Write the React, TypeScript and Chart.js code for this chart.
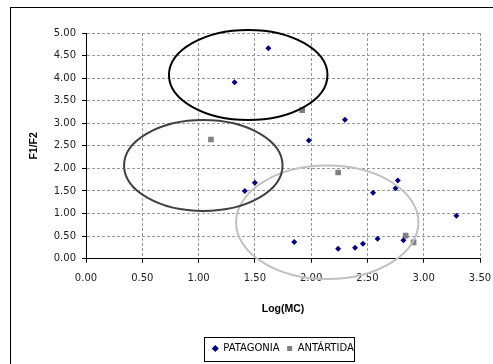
import React, { useEffect, useRef } from "react";
import { Chart, registerables } from "chart.js";

Chart.register(...registerables);

// ---- data ----
const patagoniaX = [1.32, 1.62, 2.30, 1.98, 1.41, 1.50, 2.77, 2.75, 2.55, 3.29, 1.85, 2.24, 2.39, 2.46, 2.59, 2.82];
const patagoniaY = [3.91, 4.66, 3.08, 2.62, 1.50, 1.68, 1.73, 1.56, 1.46, 0.95, 0.37, 0.22, 0.24, 0.33, 0.44, 0.41];
const antartidaX = [1.11, 1.92, 2.24, 2.84, 2.91];
const antartidaY = [2.64, 3.29, 1.91, 0.51, 0.36];

const seriesLabels = ["PATAGONIA", "ANTÁRTIDA"];
const xTitle = "Log(MC)";
const yTitle = "F1/F2";

// highlight ellipses (data units): centre x, centre y, radius x, radius y
const ellipseCX = [2.143, 1.042, 1.441];
const ellipseCY = [0.806, 2.065, 4.07];
const ellipseRX = [0.81, 0.704, 0.704];
const ellipseRY = [1.256, 1.008, 0.997];
const ellipseColors = ["#c0c0c0", "#404040", "#000000"];

const tickFont = { family: "DejaVu Sans", size: 10 };
const titleFont = { family: "Liberation Sans", size: 10.5, weight: "bold" as const };

const framePlugin = {
  id: "frame",
  beforeDraw(chart: any) {
    const { ctx } = chart;
    ctx.save();
    ctx.fillStyle = "#fff";
    ctx.fillRect(0, 0, chart.width, chart.height);
    ctx.strokeStyle = "#000";
    ctx.lineWidth = 1;
    ctx.strokeRect(10.5, 7.5, 600, 500);
    ctx.restore();
    const L = chart.legend;
    if (L && L.lineWidths) {
      const pad = L.options.labels.padding;
      const left = 204.3;
      const top = 336.5;
      L.left = left;
      L.right = left + pad + L.lineWidths[0] + 2;
      L.top = top;
      L.bottom = top + 24;
      L.width = L.right - L.left;
      L.height = 24;
    }
  },
  afterDatasetsDraw(chart: any) {
    const { ctx } = chart;
    const x = chart.scales.x;
    const y = chart.scales.y;
    for (let i = 0; i < ellipseCX.length; i++) {
      const cx = x.getPixelForValue(ellipseCX[i]);
      const cy = y.getPixelForValue(ellipseCY[i]);
      const rx = Math.abs(x.getPixelForValue(ellipseCX[i] + ellipseRX[i]) - cx);
      const ry = Math.abs(y.getPixelForValue(ellipseCY[i] + ellipseRY[i]) - cy);
      ctx.save();
      ctx.beginPath();
      ctx.ellipse(cx, cy, rx, ry, 0, 0, Math.PI * 2);
      ctx.lineWidth = 2;
      ctx.strokeStyle = ellipseColors[i];
      ctx.stroke();
      ctx.restore();
    }
  },
  afterDraw(chart: any) {
    const L = chart.legend;
    if (!L || !L.lineWidths) return;
    const { ctx } = chart;
    const pad = L.options.labels.padding;
    const start = L.left + pad;
    const right = start + L.lineWidths[0] - pad + 1.5;
    ctx.save();
    ctx.strokeStyle = "#000";
    ctx.lineWidth = 1;
    ctx.strokeRect(Math.round(L.left) + 0.5, Math.round(L.top) + 0.5, Math.round(right - L.left), 24);
    ctx.restore();
  },
};

export default function App() {
  const ref = useRef<HTMLCanvasElement>(null);
  useEffect(() => {
    if (!ref.current) return;
    const chart = new Chart(ref.current, {
      type: "scatter",
      data: {
        datasets: [
          {
            label: seriesLabels[0],
            data: patagoniaX.map((v, i) => ({ x: v, y: patagoniaY[i] })),
            pointStyle: "rectRot",
            pointRadius: 3,
            borderWidth: 0,
            backgroundColor: "#000080",
            borderColor: "#000080",
          },
          {
            label: seriesLabels[1],
            data: antartidaX.map((v, i) => ({ x: v, y: antartidaY[i] })),
            pointStyle: "rect",
            pointRadius: 4,
            borderWidth: 0,
            backgroundColor: "#808080",
            borderColor: "#808080",
          },
        ],
      },
      options: {
        responsive: false,
        animation: false,
        events: [],
        layout: { autoPadding: false, padding: { left: 28, top: 33, right: 13, bottom: 21.7 } },
        plugins: {
          tooltip: { enabled: false },
          legend: {
            position: "bottom",
            labels: {
              usePointStyle: true,
              boxWidth: 6,
              boxHeight: 5,
              padding: 7,
              color: "#000",
              font: tickFont,
            },
          },
        },
        scales: {
          x: {
            type: "linear",
            min: 0,
            max: 3.5,
            afterFit: (s: any) => { s.height = 56.6; s.paddingLeft = 0; s.paddingRight = 0; },
            ticks: {
              stepSize: 0.5,
              padding: 10,
              color: "#222",
              font: tickFont,
              maxRotation: 0,
              callback: (v: any) => Number(v).toFixed(2),
            },
            grid: {
              color: "#999",
              lineWidth: 1,
              tickLength: 4,
              tickColor: "#000",
              tickBorderDash: [],
            },
            border: { display: true, color: "#000", width: 1, dash: [3, 2] },
            title: { display: true, text: xTitle, color: "#000", font: titleFont, padding: 0 },
          },
          y: {
            type: "linear",
            min: 0,
            max: 5,
            afterFit: (s: any) => { s.width = 58; s.paddingTop = 0; s.paddingBottom = 0; },
            ticks: {
              stepSize: 0.5,
              padding: 6,
              color: "#222",
              font: tickFont,
              callback: (v: any) => Number(v).toFixed(2),
            },
            grid: {
              color: "#999",
              lineWidth: 1,
              tickLength: 4,
              tickColor: "#000",
              tickBorderDash: [],
            },
            border: { display: true, color: "#000", width: 1, dash: [3, 2] },
            title: { display: true, text: yTitle, color: "#000", font: titleFont, padding: 0 },
          },
        },
      },
      plugins: [framePlugin],
    } as any);
    return () => chart.destroy();
  }, []);
  return (
    <div style={{ position: "absolute", left: 0, top: 0, width: 493, height: 364 }}>
      <canvas ref={ref} width={493} height={364} />
    </div>
  );
}
